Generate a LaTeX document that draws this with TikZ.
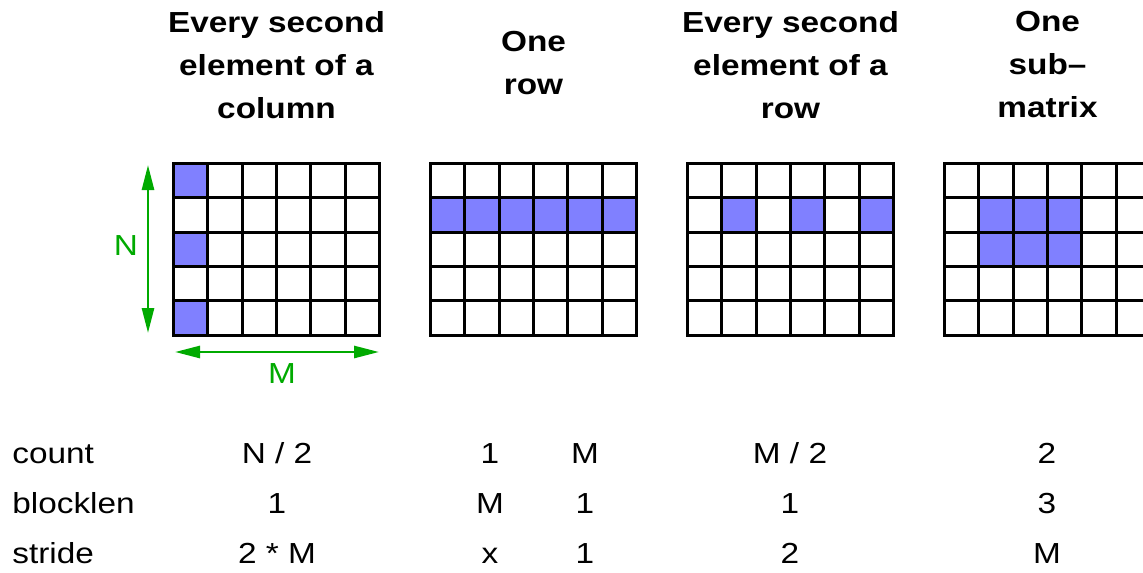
\documentclass[tikz,border=0pt]{standalone}
\usepackage{fontspec}
\setmainfont[FakeStretch=1.15]{Liberation Sans}
\usetikzlibrary{arrows.meta}

\definecolor{hitblue}{RGB}{128,128,255}
\definecolor{dimgreen}{RGB}{0,170,0}

\begin{document}
\begin{tikzpicture}[
    x=0.5pt, y=-0.5pt,
    gridline/.style={draw=black, line width=1.4pt, line cap=rect},
    hit/.style={fill=hitblue},
    title/.style={font=\fontsize{14.5}{21.5}\selectfont\bfseries, align=center},
    cellval/.style={font=\fontsize{14.5}{17}\selectfont, anchor=base, inner sep=0pt},
    rowname/.style={cellval, anchor=base west},
    dim/.style={{Triangle[length=12.5pt,width=6pt]}-{Triangle[length=12.5pt,width=6pt]},
                line width=1.35pt, draw=dimgreen},
    dimlbl/.style={font=\fontsize{14.5}{17}\selectfont, text=dimgreen, inner sep=0pt},
  ]
  \useasboundingbox (0,0) rectangle (1143,572);

  \def\cs{34.33}

  % top left corner of the four matrices
  \foreach \g in {0,...,3}
    \coordinate (mat\g) at (173.5+257*\g, 163.5);

  % selected elements
  \foreach \c/\r in {0/0, 0/2, 0/4}
    \fill[hit, shift={(mat0)}] (\c*\cs,\r*\cs) rectangle ++(\cs,\cs);
  \fill[hit, shift={(mat1)}] (0,\cs) rectangle (6*\cs,2*\cs);
  \foreach \c in {1,3,5}
    \fill[hit, shift={(mat2)}] (\c*\cs,\cs) rectangle ++(\cs,\cs);
  \fill[hit, shift={(mat3)}] (\cs,\cs) rectangle (4*\cs,3*\cs);

  % the grids
  \foreach \g in {0,...,3} {
    \begin{scope}[shift={(mat\g)}]
      \foreach \i in {0,...,6}
        \draw[gridline] (\i*\cs,0) -- (\i*\cs,5*\cs);
      \foreach \j in {0,...,5}
        \draw[gridline] (0,\j*\cs) -- (6*\cs,\j*\cs);
    \end{scope}
  }

  % titles
  \node[title] (t0) at (276.5,65) {Every second\\element of a\\column};
  \node[title] (t1) at (533.5,63) {One\\row};
  \node[title] (t2) at (790.5,65) {Every second\\element of a\\row};
  \node[title] (t3) at (1047.5,65) {One\\sub--\\matrix};

  % dimensions
  \coordinate (ntop) at (148,165);
  \coordinate (nbot) at (148,333);
  \coordinate (mleft) at (175,352);
  \coordinate (mright) at (379,352);
  \draw[dim] (ntop) -- (nbot);
  \draw[dim] (mleft) -- (mright);
  \node[dimlbl] (nlbl) at (126,246) {N};
  \node[dimlbl] (mlbl) at (282,374) {M};

  % parameters
  \node[rowname] (count) at (12,463) {count};
  \node[rowname] (blocklen) at (12,513) {blocklen};
  \node[rowname] (stride) at (12,563) {stride};

  \node[cellval] (c0) at (277,463) {N / 2};
  \node[cellval] (b0) at (277,513) {1};
  \node[cellval] (s0) at (277,563) {2 * M};

  \node[cellval] (c1a) at (490,463) {1};
  \node[cellval] (b1a) at (490,513) {M};
  \node[cellval] (s1a) at (490,563) {x};
  \node[cellval] (c1b) at (585,463) {M};
  \node[cellval] (b1b) at (585,513) {1};
  \node[cellval] (s1b) at (585,563) {1};

  \node[cellval] (c2) at (790,463) {M / 2};
  \node[cellval] (b2) at (790,513) {1};
  \node[cellval] (s2) at (790,563) {2};

  \node[cellval] (c3) at (1047,463) {2};
  \node[cellval] (b3) at (1047,513) {3};
  \node[cellval] (s3) at (1047,563) {M};

\end{tikzpicture}
\end{document}
